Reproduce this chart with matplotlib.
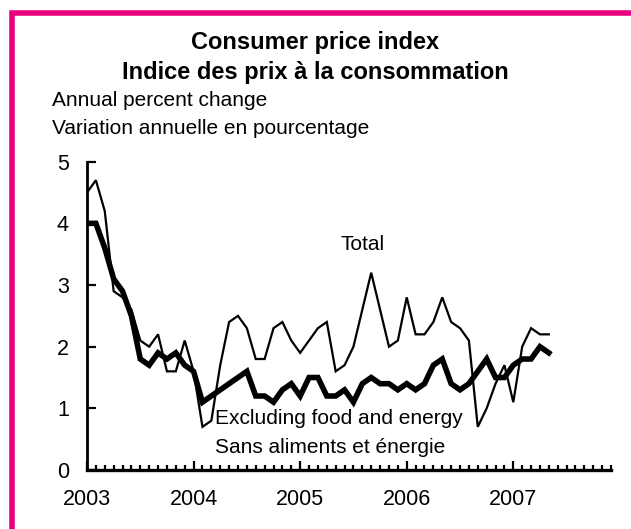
import matplotlib
matplotlib.use("Agg")
import matplotlib.pyplot as plt
from matplotlib.lines import Line2D

plt.rcParams['font.family'] = ['Liberation Sans', 'DejaVu Sans']

# Monthly data, Jan 2003 .. May 2007 (month index 0 = Jan 2003)
total = [4.5, 4.7, 4.2, 2.9, 2.8, 2.6, 2.1, 2.0, 2.2, 1.6, 1.6, 2.1,
         1.6, 0.7, 0.8, 1.7, 2.4, 2.5, 2.3, 1.8, 1.8, 2.3, 2.4, 2.1,
         1.9, 2.1, 2.3, 2.4, 1.6, 1.7, 2.0, 2.6, 3.2, 2.6, 2.0, 2.1,
         2.8, 2.2, 2.2, 2.4, 2.8, 2.4, 2.3, 2.1, 0.7, 1.0, 1.4, 1.7,
         1.1, 2.0, 2.3, 2.2, 2.2]
core = [4.0, 4.0, 3.6, 3.1, 2.9, 2.5, 1.8, 1.7, 1.9, 1.8, 1.9, 1.7,
        1.6, 1.1, 1.2, 1.3, 1.4, 1.5, 1.6, 1.2, 1.2, 1.1, 1.3, 1.4,
        1.2, 1.5, 1.5, 1.2, 1.2, 1.3, 1.1, 1.4, 1.5, 1.4, 1.4, 1.3,
        1.4, 1.3, 1.4, 1.7, 1.8, 1.4, 1.3, 1.4, 1.6, 1.8, 1.5, 1.5,
        1.7, 1.8, 1.8, 2.0, 1.9]
year_labels = ['2003', '2004', '2005', '2006', '2007']
y_ticks = [0, 1, 2, 3, 4, 5]

months = list(range(len(total)))

fig = plt.figure(figsize=(6.31, 5.29), dpi=100)
ax = fig.add_axes([87/631, 1-470/529, (611-87)/631, (470-161.7)/529])

ax.plot(months, total, color='black', lw=1.6, solid_joinstyle='miter')
ax.plot(months, core, color='black', lw=4.0, solid_joinstyle='miter')

ax.set_xlim(0, 59)
ax.set_ylim(0, 5)
for s in ['top', 'right']:
    ax.spines[s].set_visible(False)
ax.spines['left'].set_linewidth(2)
ax.spines['bottom'].set_linewidth(2.4)

ax.set_yticks(y_ticks)
ax.set_yticklabels([str(v) for v in y_ticks])
ax.set_xticks([12*i for i in range(len(year_labels))])
ax.set_xticklabels(year_labels)
ax.set_xticks(list(range(0, 60)), minor=True)
ax.tick_params(axis='y', direction='in', length=6.5, width=1.6, pad=13, labelsize=15.5)
ax.tick_params(axis='x', which='major', direction='in', length=6.5, width=1.6, pad=14, labelsize=15.5)
ax.tick_params(axis='x', which='minor', direction='in', length=3.6, width=1.6)

ax.text(31.0, 3.65, 'Total', fontsize=15, ha='center', va='center')
ax.text(14.4, 0.84, 'Excluding food and energy', fontsize=15, ha='left', va='center')
ax.text(14.4, 0.37, 'Sans aliments et énergie', fontsize=15, ha='left', va='center')

fig.text(0.5, 1-43/529, 'Consumer price index', fontsize=17, fontweight='bold', ha='center', va='center')
fig.text(0.5, 1-73/529, 'Indice des prix à la consommation', fontsize=17, fontweight='bold', ha='center', va='center')
fig.text(52/631, 1-101/529, 'Annual percent change', fontsize=15, ha='left', va='center')
fig.text(52/631, 1-128/529, 'Variation annuelle en pourcentage', fontsize=15, ha='left', va='center')

border = Line2D([12/631, 12/631, 1.0], [0.0, 1-12.5/529, 1-12.5/529],
                transform=fig.transFigure, color='#E6007E', lw=4, solid_joinstyle='miter')
fig.add_artist(border)

fig.savefig('out.png', dpi=100)
